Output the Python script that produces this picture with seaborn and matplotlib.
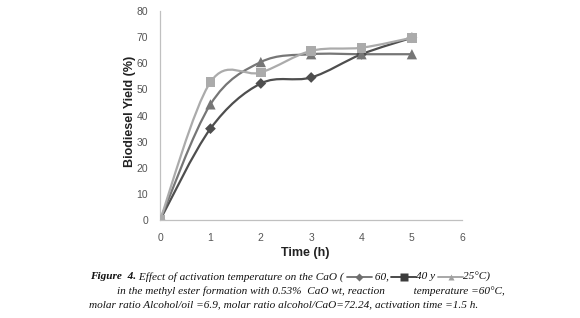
import numpy as np
import pandas as pd
import matplotlib
matplotlib.use("Agg")
import matplotlib.pyplot as plt
from matplotlib.path import Path
from matplotlib.patches import PathPatch
from matplotlib.lines import Line2D
from matplotlib.offsetbox import TextArea, DrawingArea, HPacker, AnnotationBbox
import seaborn as sns

# data
time_h = [0, 1, 2, 3, 4, 5]
yield_60 = [0, 35.0, 52.3, 54.6, 63.5, 69.8]
yield_40 = [0, 52.8, 56.5, 64.8, 66.0, 69.8]
yield_25 = [0, 44.3, 60.5, 63.5, 63.5, 63.5]
series_labels = ["60", "25", "40"]

colors = {"60": "#4e4e4e", "25": "#767676", "40": "#ababab"}
markers = {"60": "D", "25": "^", "40": "s"}
msizes = {"60": 30, "25": 55, "40": 50}

df = pd.DataFrame({
    "Time (h)": time_h * 3,
    "Yield": yield_60 + yield_25 + yield_40,
    "Temp": ["60"] * 6 + ["25"] * 6 + ["40"] * 6,
})

sns.set_style("white")
plt.rcParams["font.family"] = ["Liberation Sans", "DejaVu Sans"]

fig = plt.figure(figsize=(5.8, 3.18), dpi=100)
ax = fig.add_axes([0.276, 0.308, 0.521, 0.657])


def smooth_path(xs, ys):
    # Excel-like smoothed line (Catmull-Rom as cubic Bezier)
    pts = np.column_stack([xs, ys]).astype(float)
    n = len(pts)
    verts = [pts[0]]
    codes = [Path.MOVETO]
    for i in range(n - 1):
        p0 = pts[max(i - 1, 0)]
        p1 = pts[i]
        p2 = pts[i + 1]
        p3 = pts[min(i + 2, n - 1)]
        verts += [p1 + (p2 - p0) / 6, p2 - (p3 - p1) / 6, p2]
        codes += [Path.CURVE4] * 3
    return Path(verts, codes)


for lab in series_labels:
    sub = df[df["Temp"] == lab]
    ax.add_patch(PathPatch(smooth_path(sub["Time (h)"], sub["Yield"]), fill=False,
                           edgecolor=colors[lab], lw=1.6, zorder=2))
    sns.scatterplot(data=sub, x="Time (h)", y="Yield", marker=markers[lab],
                    color=colors[lab], s=msizes[lab], edgecolor="none",
                    ax=ax, zorder=3, legend=False)

ax.set_xlim(0, 6)
ax.set_ylim(0, 80)
ax.set_xticks(range(0, 7))
ax.set_yticks(range(0, 81, 10))
for s in ["top", "right"]:
    ax.spines[s].set_visible(False)
for s in ["left", "bottom"]:
    ax.spines[s].set_color("#c0c0c0")
    ax.spines[s].set_linewidth(0.9)
ax.tick_params(axis="both", direction="out", length=3.5, width=0.9, color="#c0c0c0",
               labelsize=7.5, labelcolor="#555555", pad=5)
ax.tick_params(axis="x", pad=6)
ax.set_xlabel("Time (h)", fontsize=9, fontweight="bold", color="#222222")
ax.set_ylabel("Biodiesel Yield (%)", fontsize=9, fontweight="bold", color="#222222")
ax.xaxis.set_label_coords(0.48, -0.13)
ax.yaxis.set_label_coords(-0.08, 0.52)

# caption
serif = ["Liberation Serif", "DejaVu Serif"]
cap_size = 8.1


def txt(s, bold=False):
    return TextArea(s, textprops=dict(fontfamily=serif, fontstyle="italic", fontsize=cap_size,
                                      fontweight="bold" if bold else "normal", color="#111111"))


def swatch(color, marker, ms):
    da = DrawingArea(18, 6, 0, 0)
    da.add_artist(Line2D([0, 18], [3, 3], color=color, lw=1.3))
    da.add_artist(Line2D([9], [3], marker=marker, color=color, ms=ms, mec="none"))
    return da


line1 = HPacker(children=[
    txt("Figure  4.", bold=True), txt(" Effect of activation temperature on the CaO ( "),
    swatch("#6e6e6e", "D", 4), txt(" 60, "),
    swatch("#3c3c3c", "s", 6), txt("40 y "),
    swatch("#a0a0a0", "^", 5), txt("25°C)"),
], pad=0, sep=0, align="center")
line2 = HPacker(children=[
    txt("in the methyl ester formation with 0.53%  CaO wt, reaction          temperature =60°C,"),
], pad=0, sep=0)
line3 = HPacker(children=[
    txt("molar ratio Alcohol/oil =6.9, molar ratio alcohol/CaO=72.24, activation time =1.5 h."),
], pad=0, sep=0)

for box, x, y in [(line1, 0.155, 0.129), (line2, 0.202, 0.085), (line3, 0.153, 0.041)]:
    ab = AnnotationBbox(box, (x, y), xycoords="figure fraction", box_alignment=(0, 0.5),
                        frameon=False, pad=0)
    fig.add_artist(ab)

fig.savefig("out.png", dpi=100)
